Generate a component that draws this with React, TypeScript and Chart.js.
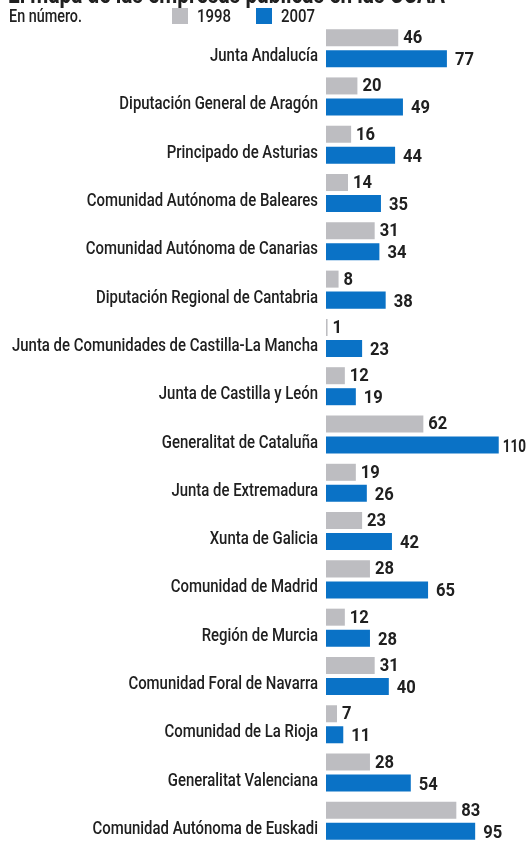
import React, { useEffect, useRef } from "react";
import { Chart, registerables } from "chart.js";

Chart.register(...registerables);

const categories = [
  "Junta Andalucía",
  "Diputación General de Aragón",
  "Principado de Asturias",
  "Comunidad Autónoma de Baleares",
  "Comunidad Autónoma de Canarias",
  "Diputación Regional de Cantabria",
  "Junta de Comunidades de Castilla-La Mancha",
  "Junta de Castilla y León",
  "Generalitat de Cataluña",
  "Junta de Extremadura",
  "Xunta de Galicia",
  "Comunidad de Madrid",
  "Región de Murcia",
  "Comunidad Foral de Navarra",
  "Comunidad de La Rioja",
  "Generalitat Valenciana",
  "Comunidad Autónoma de Euskadi",
];
const values1998 = [46, 20, 16, 14, 31, 8, 1, 12, 62, 19, 23, 28, 12, 31, 7, 28, 83];
const values2007 = [77, 49, 44, 35, 34, 38, 23, 19, 110, 26, 42, 65, 28, 40, 11, 54, 95];
const seriesNames = ["1998", "2007"];
const titleText = "El mapa de las empresas públicas en las CCAA";
const subtitleText = "En número.";

const GRAY = "#bdbdc1";
const BLUE = "#0a72c6";
const TEXT = "#202020";
const FONT = 'Roboto, "Liberation Sans", sans-serif';

function drawText(ctx: any, text: string, x: number, y: number, align: string, sx: number) {
  ctx.save();
  ctx.translate(x, y);
  ctx.scale(sx, 1);
  ctx.textAlign = align;
  ctx.fillText(text, 0, 0);
  ctx.restore();
}

const annotatePlugin = {
  id: "annotate",
  afterDraw(chart: any) {
    const ctx = chart.ctx;
    ctx.save();
    ctx.fillStyle = TEXT;
    // title (cropped at top)
    ctx.font = `bold 25px ${FONT}`;
    ctx.textBaseline = "alphabetic";
    const tw = ctx.measureText(titleText).width;
    drawText(ctx, titleText, 8, 3, "left", 437 / tw);
    // subtitle
    ctx.textBaseline = "middle";
    ctx.font = `500 18px ${FONT}`;
    const sw = ctx.measureText(subtitleText).width;
    drawText(ctx, subtitleText, 9, 17, "left", 73 / sw);
    // legend
    const legendItems = [
      { x: 172, color: GRAY, label: seriesNames[0] },
      { x: 256, color: BLUE, label: seriesNames[1] },
    ];
    for (const it of legendItems) {
      ctx.fillStyle = it.color;
      ctx.fillRect(it.x, 8, 16, 16);
      ctx.fillStyle = TEXT;
      const lw = ctx.measureText(it.label).width;
      drawText(ctx, it.label, it.x + 25, 17, "left", 34 / lw);
    }
    // value labels
    const m0 = chart.getDatasetMeta(0);
    const m1 = chart.getDatasetMeta(1);
    ctx.font = `bold 18px ${FONT}`;
    const place = (txt: string, x: number, y: number) => {
      const w = ctx.measureText(txt).width;
      const s = Math.min(0.92, (526 - x) / w);
      drawText(ctx, txt, x, y, "left", s);
    };
    m0.data.forEach((bar: any, i: number) => {
      place(String(values1998[i]), bar.x + 5, bar.y + 1);
    });
    m1.data.forEach((bar: any, i: number) => {
      place(String(values2007[i]), bar.x + (values2007[i] >= 100 ? 4 : 8), bar.y + 2);
    });
    // category labels
    ctx.font = `500 18px ${FONT}`;
    const longest = categories[6];
    const cw = ctx.measureText(longest).width;
    const catScale = 306 / cw;
    m1.data.forEach((bar: any, i: number) => {
      drawText(ctx, categories[i], 318, bar.y - 2, "right", catScale);
    });
    ctx.restore();
  },
};

export default function App() {
  const ref = useRef<HTMLCanvasElement>(null);
  useEffect(() => {
    document.documentElement.style.overflow = "hidden";
    document.body.style.margin = "0";
    document.body.style.overflow = "hidden";
    document.body.style.background = "#ffffff";
    const chart = new Chart(ref.current!, {
      type: "bar",
      data: {
        labels: categories,
        datasets: [
          {
            label: seriesNames[0],
            data: values1998,
            backgroundColor: GRAY,
            borderWidth: 0,
            categoryPercentage: 0.87,
            barPercentage: 0.81,
          },
          {
            label: seriesNames[1],
            data: values2007,
            backgroundColor: BLUE,
            borderWidth: 0,
            categoryPercentage: 0.87,
            barPercentage: 0.81,
          },
        ],
      },
      options: {
        indexAxis: "y",
        animation: false,
        responsive: false,
        maintainAspectRatio: false,
        layout: { padding: { left: 326, right: 12, top: 24, bottom: 0 } },
        plugins: {
          legend: { display: false },
          tooltip: { enabled: false },
          title: { display: false },
        },
        scales: {
          x: { display: false, min: 0, max: 121 },
          y: { display: false },
        },
      },
      plugins: [annotatePlugin],
    });
    return () => chart.destroy();
  }, []);
  return (
    <div style={{ width: 528, height: 845, background: "#fff" }}>
      <canvas ref={ref} width={528} height={845} style={{ display: "block" }} />
    </div>
  );
}
